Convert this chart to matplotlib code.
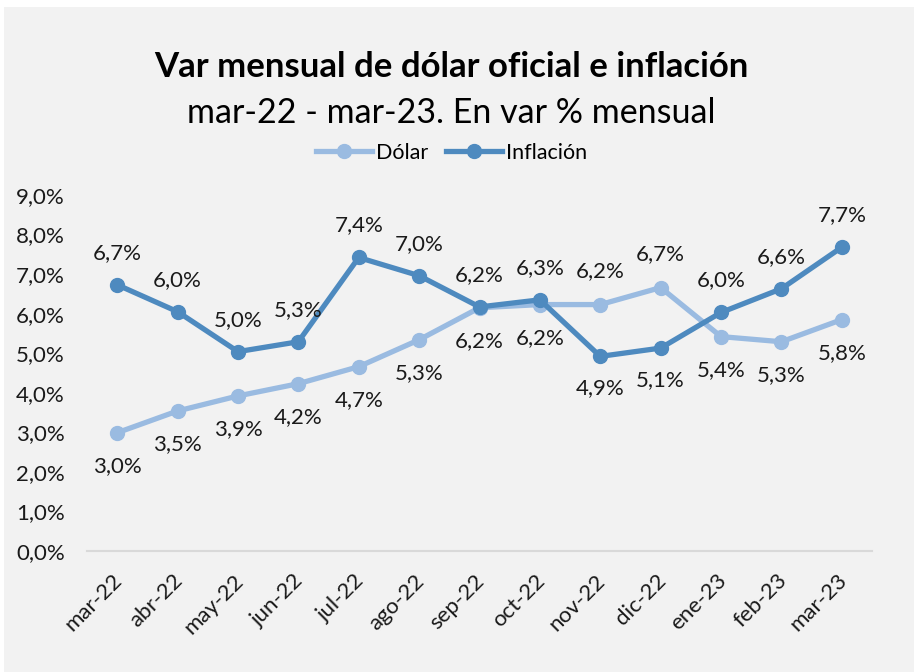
import matplotlib
matplotlib.use("Agg")
import matplotlib.pyplot as plt
import matplotlib.transforms as mtrans
from matplotlib.lines import Line2D

plt.rcParams['font.family'] = ['Lato', 'DejaVu Sans']

meses = ["mar-22", "abr-22", "may-22", "jun-22", "jul-22", "ago-22", "sep-22",
         "oct-22", "nov-22", "dic-22", "ene-23", "feb-23", "mar-23"]
dolar = [2.99, 3.54, 3.92, 4.23, 4.66, 5.34, 6.15, 6.23, 6.23, 6.66, 5.42, 5.29, 5.85]
inflacion = [6.73, 6.05, 5.04, 5.29, 7.42, 6.96, 6.17, 6.35, 4.92, 5.13, 6.03, 6.63, 7.68]
y_ticks = [0, 1, 2, 3, 4, 5, 6, 7, 8, 9]

# label side per point: 1 above, -1 below
dolar_side = [-1, -1, -1, -1, -1, -1, -1, -1, 1, 1, -1, -1, -1]
infl_side = [1, 1, 1, 1, 1, 1, 1, 1, -1, -1, 1, 1, 1]

C_DOLAR = "#9abbe1"
C_INFL = "#4e8abf"
TXT = "#1a1a1a"

W, H = 914, 672
fig = plt.figure(figsize=(W / 100, H / 100), dpi=100)
fig.patch.set_facecolor("white")
fig.add_artist(plt.Rectangle((4 / W, 0), 1, 1 - 7 / H, transform=fig.transFigure,
                             facecolor="#f2f2f2", edgecolor="none", zorder=0))

ax = fig.add_axes([87 / W, 1 - 551 / H, (872 - 87) / W, (551 - 195) / H])
ax.set_facecolor("none")

x = list(range(len(meses)))
ax.plot(x, dolar, color=C_DOLAR, lw=3.8, marker="o", ms=10, solid_capstyle="round")
ax.plot(x, inflacion, color=C_INFL, lw=3.8, marker="o", ms=10, solid_capstyle="round")


def fmt(v):
    return f"{v:.1f}%".replace(".", ",")


for i in x:
    ax.annotate(fmt(dolar[i]), (i, dolar[i]), xytext=(0, 24 * dolar_side[i]),
                textcoords="offset points", ha="center", va="center", fontsize=16,
                color=TXT)
    ax.annotate(fmt(inflacion[i]), (i, inflacion[i]), xytext=(0, 23 * infl_side[i]),
                textcoords="offset points", ha="center", va="center", fontsize=16,
                color=TXT)

ax.set_xlim(-0.5, len(meses) - 0.5)
ax.set_ylim(0, 9)
ax.set_yticks(y_ticks)
ax.set_yticklabels([fmt(v) for v in y_ticks], fontsize=16, color=TXT)
ax.set_xticks(x)
ax.set_xticklabels(meses, rotation=45, ha="right", va="top", rotation_mode="anchor",
                   fontsize=16, color=TXT)
ax.tick_params(length=0)
ax.tick_params(axis="x", pad=14)
ax.tick_params(axis="y", pad=16)
shift = mtrans.ScaledTranslation(-5 / 100, 0, fig.dpi_scale_trans)
for lbl in ax.get_xticklabels():
    lbl.set_transform(lbl.get_transform() + shift)
for s in ["top", "right", "left"]:
    ax.spines[s].set_visible(False)
ax.spines["bottom"].set_color("#d9d9d9")
ax.spines["bottom"].set_linewidth(1.5)

fig.text(0.494, 1 - 67 / H, "Var mensual de dólar oficial e inflación", ha="center",
         va="center", fontsize=25, fontweight="bold", color="black")
fig.text(0.494, 1 - 113 / H, "mar-22 - mar-23. En var % mensual", ha="center",
         va="center", fontsize=24.5, color="black")

handles = [Line2D([], [], color=C_DOLAR, lw=3.8, marker="o", ms=10),
           Line2D([], [], color=C_INFL, lw=3.8, marker="o", ms=10)]
fig.legend(handles, ["Dólar", "Inflación"], loc="center", bbox_to_anchor=(0.494, 1 - 153 / H),
           ncol=2, frameon=False, fontsize=15.5, handlelength=2.6, handletextpad=0.2,
           columnspacing=0.8)

fig.savefig("out.png", dpi=100)
